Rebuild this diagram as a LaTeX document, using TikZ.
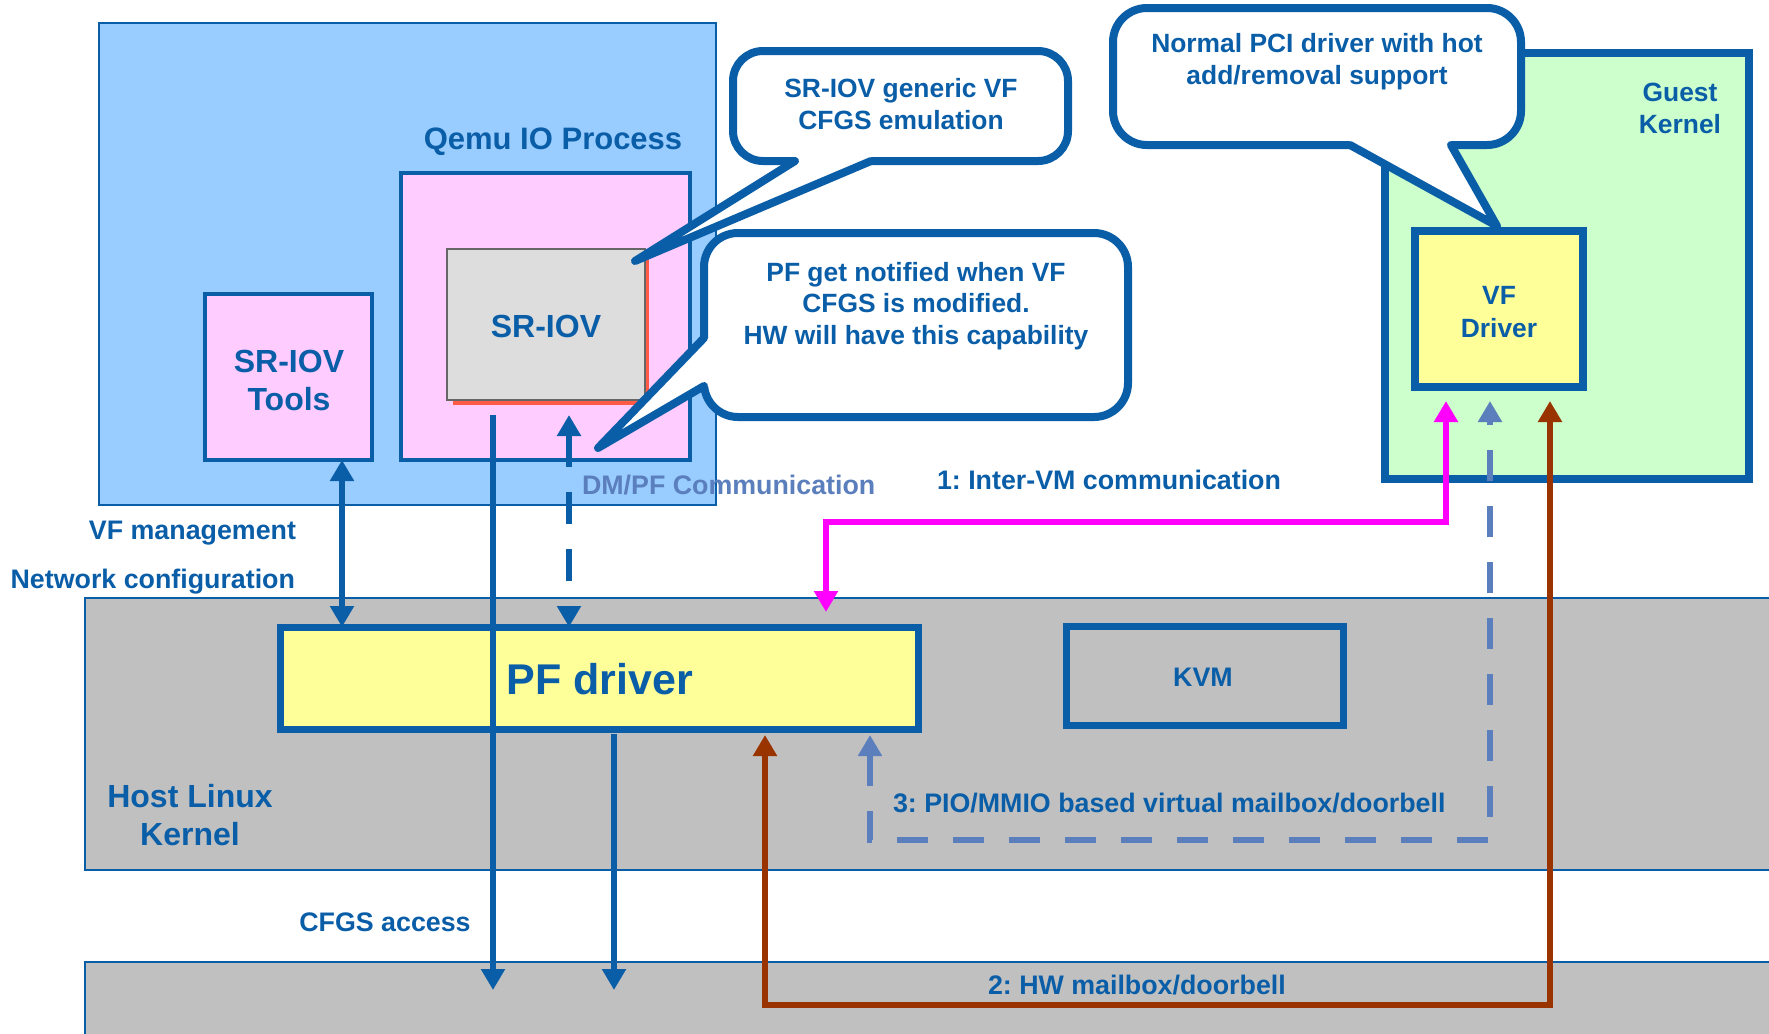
\documentclass[tikz,border=0pt]{standalone}
\usepackage{fontspec}
\setmainfont{Liberation Sans}
\usetikzlibrary{arrows.meta}
\frenchspacing

\definecolor{inkblue}{RGB}{10,94,168}
\definecolor{qemufill}{RGB}{153,204,255}
\definecolor{pinkfill}{RGB}{255,204,255}
\definecolor{greenfill}{RGB}{204,255,204}
\definecolor{yellowfill}{RGB}{255,255,153}
\definecolor{bandgray}{RGB}{192,192,192}
\definecolor{boxgray}{RGB}{221,221,221}
\definecolor{shadowred}{RGB}{255,90,70}
\definecolor{steelink}{RGB}{91,127,189}
\definecolor{brownink}{RGB}{153,51,0}
\definecolor{magentaink}{RGB}{255,0,255}

\newcommand{\txtstack}[1]{\begin{tabular}[t]{@{}c@{}}#1\end{tabular}}

\begin{document}
\begin{tikzpicture}[x=0.5pt,y=-0.5pt,
  >={Triangle[length=10.5pt,width=11.5pt]},
  every node/.style={inner sep=0pt, outer sep=0pt},
  panel/.style={draw=inkblue, line width=1.2pt},
  heavy/.style={draw=inkblue, line width=3.5pt},
  bubble/.style={draw=inkblue, line width=4pt, fill=white},
  bubbletail/.style={draw=inkblue, line width=4pt, line cap=round, line join=round},
  lbl/.style={text=inkblue, font=\bfseries\fontsize{13.4}{16}\selectfont},
  biglbl/.style={text=inkblue, font=\bfseries\fontsize{16}{19}\selectfont},
  notelbl/.style={text=inkblue, font=\bfseries\fontsize{13.2}{16}\selectfont},
  flow/.style={draw=inkblue, line width=3pt},
  dmflow/.style={draw=inkblue, line width=3pt, dash pattern=on 16pt off 12.5pt},
  vmflow/.style={draw=magentaink, line width=3pt},
  mmioflow/.style={draw=steelink, line width=3.2pt, dash pattern=on 15.5pt off 12.5pt},
  hwflow/.style={draw=brownink, line width=3.4pt}
]
\useasboundingbox (0,0) rectangle (1769,1034);
\clip (0,0) rectangle (1769,1034);
\fill[white] (0,0) rectangle (1769,1034);

% ---- Qemu IO process ----
\node[panel, fill=qemufill, minimum width=308.5pt, minimum height=241pt] (qemu) at (407.5,264) {};
\node[biglbl, font=\bfseries\fontsize{15.5}{18}\selectfont, anchor=base] (qemuname) at (553,149) {Qemu IO Process};

\node[panel, line width=1.6pt, fill=pinkfill, minimum width=144.5pt, minimum height=143.5pt] (dm) at (545.5,316.5) {};
\node[fill=shadowred, minimum width=98pt, minimum height=75.5pt] (sriovshadow) at (551,329.5) {};
\node[draw=black!60, line width=1pt, fill=boxgray, minimum width=99pt, minimum height=75.5pt] (sriov) at (546,324.5) {};
\node[biglbl, anchor=base] (sriovname) at (546,337) {SR-IOV};

\node[panel, line width=1.6pt, fill=pinkfill, minimum width=83.5pt, minimum height=83pt] (tools) at (288.5,377) {};
\node[biglbl, anchor=base] (toolsname) at (289,372) {\txtstack{SR-IOV\\Tools}};

% ---- Guest kernel ----
\node[draw=inkblue, line width=4pt, fill=greenfill, minimum width=182pt, minimum height=213pt] (guest) at (1567,266) {};
\node[notelbl, anchor=base] (guestname) at (1680,101) {\txtstack{Guest\\Kernel}};
\node[draw=inkblue, line width=4pt, fill=yellowfill, minimum width=84pt, minimum height=78pt] (vf) at (1499,309) {};
\node[lbl, font=\bfseries\fontsize{13.2}{16.5}\selectfont, anchor=base] (vfname) at (1499,304) {\txtstack{VF\\Driver}};

% ---- Host kernel and hardware bands ----
\node[panel, fill=bandgray, minimum width=850pt, minimum height=136pt] (hostk) at (935,734) {};
\node[panel, fill=bandgray, minimum width=850pt, minimum height=50pt] (hwbus) at (935,1012) {};
\node[biglbl, anchor=base] (hostname) at (190,807) {\txtstack{Host Linux\\Kernel}};

\node[heavy, fill=yellowfill, minimum width=319pt, minimum height=51pt] (pf) at (599,678) {};
\node[text=inkblue, font=\bfseries\fontsize{21.5}{24}\selectfont, anchor=base] (pfname) at (600,694) {PF driver};
\node[heavy, fill=bandgray, minimum width=138.5pt, minimum height=49.5pt] (kvm) at (1204.5,675.5) {};
\node[lbl, anchor=base] (kvmname) at (1203,686) {KVM};

% ---- Callouts ----
\node[bubble, rounded corners=15pt, minimum width=167.5pt, minimum height=55pt] (note1) at (900.5,106) {};
\fill[white] (795,150) -- (795,161) -- (635,261) -- (871,161) -- (871,150) -- cycle;
\draw[bubbletail] (795,161) -- (635,261) -- (871,161);
\node[notelbl, anchor=base] (note1text) at (901,97) {\txtstack{SR-IOV generic VF\\CFGS emulation}};

\node[bubble, rounded corners=17pt, minimum width=212pt, minimum height=92pt] (note2) at (916,325) {};
\fill[white] (714,338) -- (704,338) -- (598,448) -- (704,386) -- (714,386) -- cycle;
\draw[bubbletail] (704,338) -- (598,448) -- (704,386);
\node[notelbl, font=\bfseries\fontsize{13.2}{15.75}\selectfont, anchor=base] (note2text) at (916,281) {\txtstack{PF get notified when VF\\CFGS is modified.\\HW will have this capability}};

\node[bubble, rounded corners=17pt, minimum width=204pt, minimum height=68.5pt] (note3) at (1317,76.5) {};
\fill[white] (1350,135) -- (1350,145) -- (1497,226) -- (1451,145) -- (1451,135) -- cycle;
\draw[bubbletail] (1350,145) -- (1497,226) -- (1451,145);
\node[notelbl, anchor=base] (note3text) at (1317,52) {\txtstack{Normal PCI driver with hot\\add/removal support}};

% ---- Connectors ----
\coordinate (mgmtUp) at ([xshift=-15pt]tools.south east);
\draw[flow,<->] (mgmtUp) -- (mgmtUp |- pf.north);

\coordinate (dmTop) at ([xshift=61pt,yshift=-7.5pt]sriov.south west);
\draw[dmflow,<->] (dmTop) -- (dmTop |- pf.north);

\coordinate (busTip) at ([yshift=-14pt]hwbus.north);
\coordinate (cfgsA) at ([xshift=23pt,yshift=-7.5pt]sriov.south west);
\draw[flow,->] (cfgsA) -- (cfgsA |- busTip);
\coordinate (cfgsB) at ([xshift=167pt,yshift=-2.5pt]pf.south west);
\draw[flow,->] (cfgsB) -- (cfgsB |- busTip);

\coordinate (vmVF) at (1446,401);
\coordinate (vmPF) at (826,612);
\draw[vmflow,<->] (vmVF) -- (1446,522) -- (826,522) -- (vmPF);

\coordinate (mmioPF) at (870,735);
\coordinate (mmioVF) at (1490,401);
\draw[mmioflow,<->] (mmioPF) -- (870,840) -- (1490,840) -- (mmioVF);

\coordinate (hwPF) at (765,735);
\coordinate (hwVF) at (1550,401);
\draw[hwflow,<->] (hwPF) -- (765,1005) -- (1550,1005) -- (hwVF);

% ---- Labels ----
\node[lbl, anchor=base east] (vfmgmt) at (296,539) {VF management};
\node[lbl, anchor=base east] (netcfg) at (295,588) {Network configuration};
\node[lbl, anchor=base] (cfgsacc) at (385,931) {CFGS access};
\node[lbl, text=steelink, anchor=base west] (dmpfcomm) at (582,494) {DM/PF Communication};
\node[lbl, anchor=base west] (intervm) at (937,489) {1: Inter-VM communication};
\node[lbl, anchor=base west] (mmiolbl) at (893,812) {3: PIO/MMIO based virtual mailbox/doorbell};
\node[lbl, anchor=base west] (hwlbl) at (988,994) {2: HW mailbox/doorbell};
\end{tikzpicture}
\end{document}
